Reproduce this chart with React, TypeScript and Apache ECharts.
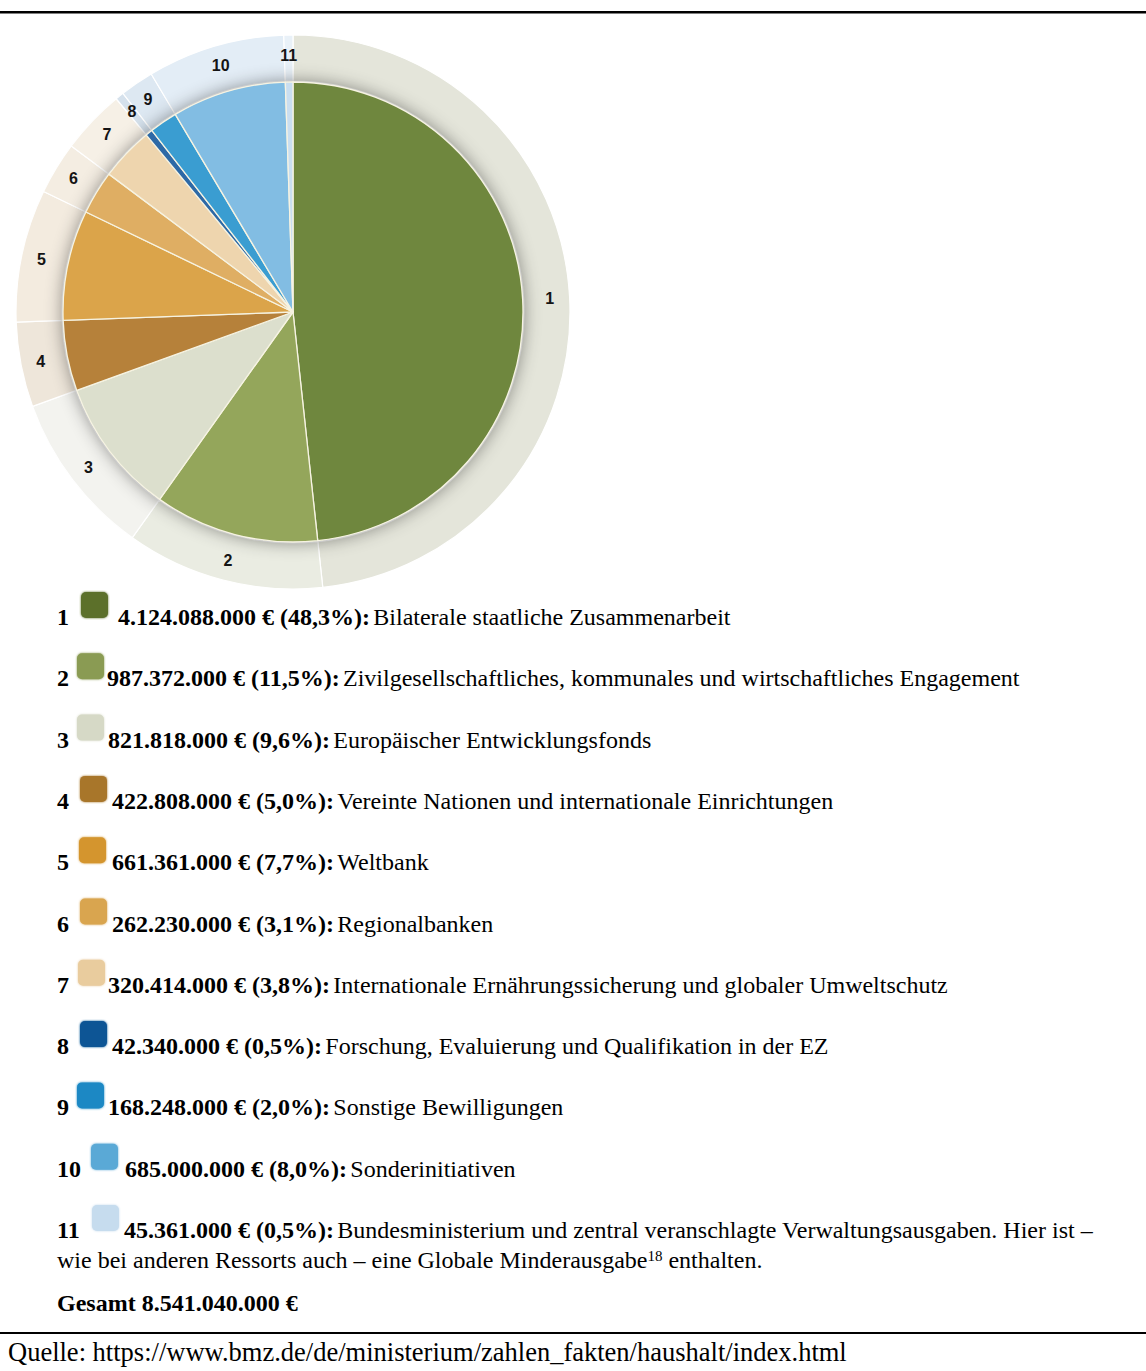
import React, { useEffect, useRef } from 'react';
import * as echarts from 'echarts';

// ---------- data ----------
const sliceIds = ['1', '2', '3', '4', '5', '6', '7', '8', '9', '10', '11'];
const amounts = [
  4124088000, 987372000, 821818000, 422808000, 661361000, 262230000,
  320414000, 42340000, 168248000, 685000000, 45361000,
];
const amountLabels = [
  '4.124.088.000 € (48,3%):',
  '987.372.000 € (11,5%):',
  '821.818.000 € (9,6%):',
  '422.808.000 € (5,0%):',
  '661.361.000 € (7,7%):',
  '262.230.000 € (3,1%):',
  '320.414.000 € (3,8%):',
  '42.340.000 € (0,5%):',
  '168.248.000 € (2,0%):',
  '685.000.000 € (8,0%):',
  '45.361.000 € (0,5%):',
];
const descriptions = [
  'Bilaterale staatliche Zusammenarbeit',
  'Zivilgesellschaftliches, kommunales und wirtschaftliches Engagement',
  'Europäischer Entwicklungsfonds',
  'Vereinte Nationen und internationale Einrichtungen',
  'Weltbank',
  'Regionalbanken',
  'Internationale Ernährungssicherung und globaler Umweltschutz',
  'Forschung, Evaluierung und Qualifikation in der EZ',
  'Sonstige Bewilligungen',
  'Sonderinitiativen',
  'Bundesministerium und zentral veranschlagte Verwaltungsausgaben. Hier ist –',
];
const lastLineBefore = 'wie bei anderen Ressorts auch – eine Globale Minderausgabe';
const lastLineSup = '18';
const lastLineAfter = ' enthalten.';
const totalText = 'Gesamt 8.541.040.000 €';
const sourceText = 'Quelle: https://www.bmz.de/de/ministerium/zahlen_fakten/haushalt/index.html';

// ---------- styles ----------
const pieColors = [
  '#6f873e', '#94a65b', '#dcdfcd', '#b6813a', '#dba44a', '#dfae63',
  '#eed5ae', '#2d69a6', '#3a9dd1', '#82bde3', '#c9def0',
];
const ringColors = [
  '#e4e5da', '#eaece2', '#f3f3ef', '#eee6da', '#f3ebdf', '#f4ede2',
  '#f6f0e6', '#d5e1ec', '#dde8f2', '#e3edf6', '#e9f1f8',
];
const legendColors = [
  '#5b6f2b', '#8a9b52', '#d6d9c6', '#a8762c', '#d4952e', '#d9a550',
  '#e9cc9e', '#0e5495', '#1a88c4', '#5aa9d6', '#c6dcee',
];
// legend layout: [iconX, textX]
const legendLayout = [
  [81, 118], [77, 107], [77, 108], [80, 112], [79, 112], [80, 112],
  [78, 108], [80, 112], [77, 108], [91, 125], [92, 124],
];

const SERIF = '"Liberation Serif", "Times New Roman", serif';

export default function App() {
  const ref = useRef<HTMLDivElement>(null);
  useEffect(() => {
    document.body.style.margin = '0';
    const chart = echarts.init(ref.current!, undefined, { renderer: 'svg' });
    const center = [293, 312];
    const pieData = amounts.map((v, i) => ({
      name: sliceIds[i],
      value: v,
      itemStyle: { color: pieColors[i] },
    }));
    const ringData = amounts.map((v, i) => ({
      name: sliceIds[i],
      value: v,
      itemStyle: { color: ringColors[i] },
    }));

    const graphics: any[] = [];
    // rules
    graphics.push({ type: 'rect', shape: { x: 0, y: 11, width: 1146, height: 2.5 }, style: { fill: '#000' } });
    graphics.push({ type: 'rect', shape: { x: 0, y: 1332, width: 1146, height: 2 }, style: { fill: '#000' } });

    const rowY0 = 617;
    const rowStep = 61.3;
    sliceIds.forEach((id, i) => {
      const y = rowY0 + i * rowStep;
      const [ix, tx] = legendLayout[i];
      graphics.push({
        type: 'text', x: 57, y,
        style: { text: id, fontFamily: SERIF, fontSize: 24, fontWeight: 'bold', fill: '#000', verticalAlign: 'middle' },
      });
      graphics.push({
        type: 'rect',
        shape: { x: ix, y: y - 25, width: 27, height: 26, r: 5 },
        style: { fill: legendColors[i], shadowBlur: 2, shadowColor: legendColors[i] },
      });
      graphics.push({
        type: 'text', x: tx, y,
        style: {
          text: '{b|' + amountLabels[i] + '} {r|' + descriptions[i] + '}',
          verticalAlign: 'middle',
          rich: {
            b: { fontFamily: SERIF, fontSize: 24, fontWeight: 'bold', fill: '#000' },
            r: { fontFamily: SERIF, fontSize: 24, fill: '#000' },
          },
        },
      });
    });
    // second line of item 11
    graphics.push({
      type: 'text', x: 57, y: 1260,
      style: {
        text: '{r|' + lastLineBefore + '}{s|' + lastLineSup + '}{r|' + lastLineAfter + '}',
        verticalAlign: 'middle',
        rich: {
          r: { fontFamily: SERIF, fontSize: 24, fill: '#000', verticalAlign: 'bottom' },
          s: { fontFamily: SERIF, fontSize: 15, fill: '#000', verticalAlign: 'top' },
        },
      },
    });
    graphics.push({
      type: 'text', x: 57, y: 1303,
      style: { text: totalText, fontFamily: SERIF, fontSize: 24, fontWeight: 'bold', fill: '#000', verticalAlign: 'middle' },
    });
    graphics.push({
      type: 'text', x: 8, y: 1352,
      style: { text: sourceText, fontFamily: SERIF, fontSize: 26.5, fill: '#000', verticalAlign: 'middle' },
    });

    chart.setOption({
      animation: false,
      backgroundColor: '#ffffff',
      series: [
        {
          type: 'pie',
          silent: true,
          center,
          radius: [231, 277],
          startAngle: 90,
          clockwise: true,
          data: ringData,
          itemStyle: { borderColor: '#ffffff', borderWidth: 1.2 },
          label: {
            show: true,
            position: 'inside',
            formatter: '{b}',
            fontFamily: '"Liberation Sans", Arial, sans-serif',
            fontWeight: 'bold',
            fontSize: 16,
            color: '#141414',
          },
          labelLine: { show: false },
          emphasis: { disabled: true },
        },
        {
          type: 'pie',
          silent: true,
          center,
          radius: [0, 230],
          data: [{ name: 'shadow', value: 1, itemStyle: { color: '#d8d8ce' } }],
          itemStyle: { shadowBlur: 18, shadowColor: 'rgba(0,0,0,0.45)' },
          label: { show: false },
          labelLine: { show: false },
          emphasis: { disabled: true },
        },
        {
          type: 'pie',
          silent: true,
          center,
          radius: [0, 230],
          startAngle: 90,
          clockwise: true,
          data: pieData,
          itemStyle: { borderColor: '#f6f3e2', borderWidth: 1.3 },
          label: { show: false },
          labelLine: { show: false },
          emphasis: { disabled: true },
        },
      ],
      graphic: graphics,
    });
    return () => chart.dispose();
  }, []);
  return <div ref={ref} style={{ width: 1146, height: 1371 }} />;
}
